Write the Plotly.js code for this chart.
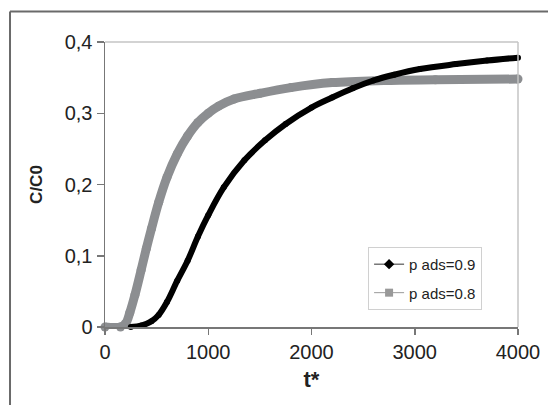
<!DOCTYPE html>
<html>
<head>
<meta charset="utf-8">
<script src="https://cdn.plot.ly/plotly-3.0.1.min.js"></script>
<style>html,body{margin:0;padding:0;background:#fff;}#chart{width:548px;height:405px;}</style>
</head>
<body>
<div id="chart"></div>
<script>
// p ads = 0.8 (gray)
var t08 = [0, 150, 200, 240, 290, 350, 400, 450, 520, 600, 700, 800, 900, 1000, 1100, 1250, 1500, 1800, 2200, 2700, 3200, 4000];
var c08 = [0, 0, 0.005, 0.02, 0.045, 0.08, 0.11, 0.138, 0.175, 0.21, 0.243, 0.268, 0.287, 0.3, 0.31, 0.32, 0.328, 0.336, 0.343, 0.346, 0.347, 0.348];
// p ads = 0.9 (black)
var t09 = [250, 350, 450, 520, 600, 700, 800, 900, 1000, 1150, 1350, 1550, 1750, 2000, 2200, 2400, 2600, 2800, 3050, 3400, 3700, 4000];
var c09 = [0, 0.002, 0.008, 0.017, 0.035, 0.065, 0.093, 0.127, 0.157, 0.196, 0.234, 0.262, 0.285, 0.308, 0.322, 0.335, 0.346, 0.354, 0.362, 0.369, 0.374, 0.378];
var seriesNames = ["p ads=0.9", "p ads=0.8"];
var yTickVals = [0, 0.1, 0.2, 0.3, 0.4];
var yTickText = ["0", "0,1", "0,2", "0,3", "0,4"];
var xTickVals = [0, 1000, 2000, 3000, 4000];
var xTickText = ["0", "1000", "2000", "3000", "4000"];

var traces = [
  {x: t08, y: c08, mode: "lines+markers", showlegend: false, cliponaxis: false,
   line: {color: "#8c8e91", width: 9, shape: "spline", smoothing: 1},
   marker: {symbol: "circle", size: 9, color: "#8c8e91"}},
  {x: t09, y: c09, mode: "lines+markers", showlegend: false, cliponaxis: false,
   line: {color: "#000000", width: 6, shape: "spline", smoothing: 1},
   marker: {symbol: "circle", size: 6, color: "#000000"}},
  {x: [null], y: [null], mode: "lines+markers", name: seriesNames[0], legendgroup: "a",
   line: {color: "#333", width: 1}, marker: {symbol: "diamond", size: 8, color: "#000"}},
  {x: [null], y: [null], mode: "lines+markers", name: seriesNames[1], legendgroup: "b",
   line: {color: "#999", width: 1}, marker: {symbol: "square", size: 8, color: "#999"}}
];

var layout = {
  width: 548, height: 405,
  margin: {l: 105, r: 30, t: 42, b: 78},
  paper_bgcolor: "#fff", plot_bgcolor: "#fff",
  font: {family: "Liberation Sans, Arial, sans-serif", color: "#222", size: 20},
  showlegend: true,
  legend: {x: 0.637, y: 0.281, xanchor: "left", yanchor: "top",
    bgcolor: "#fff", bordercolor: "#d0d0d0", borderwidth: 1,
    font: {size: 15, color: "#222"}, traceorder: "grouped", tracegroupgap: 6},
  xaxis: {range: [0, 4000], tickvals: xTickVals, ticktext: xTickText,
    showgrid: false, zeroline: false, showline: true, linecolor: "#777", linewidth: 1.5,
    ticks: "outside", ticklen: 6, tickcolor: "#777", tickwidth: 1.5,
    tickfont: {size: 20, color: "#222"},
    title: {text: "<b>t*</b>", font: {size: 22, color: "#222"}, standoff: 10}},
  yaxis: {range: [0, 0.4], tickvals: yTickVals, ticktext: yTickText,
    showgrid: false, zeroline: false, showline: true, linecolor: "#777", linewidth: 1.5,
    ticks: "outside", ticklen: 7, tickcolor: "#777", tickwidth: 1.5,
    tickfont: {size: 20, color: "#222"},
    title: {text: "<b>C/C0</b>", font: {size: 17, color: "#222"}, standoff: 17}},
  shapes: [
    {type: "line", xref: "paper", yref: "paper", x0: 0, x1: 1, y0: 1, y1: 1, line: {color: "#c4c4c4", width: 1.5}},
    {type: "line", xref: "paper", yref: "paper", x0: 1, x1: 1, y0: 0, y1: 1, line: {color: "#c4c4c4", width: 1.5}},
    {type: "line", xref: "paper", yref: "paper", x0: -0.230, x1: -0.230, y0: -0.35, y1: 1.107, line: {color: "#6a6a6a", width: 2}},
    {type: "line", xref: "paper", yref: "paper", x0: -0.230, x1: 1.2, y0: 1.107, y1: 1.107, line: {color: "#6a6a6a", width: 2}}
  ]
};

Plotly.newPlot("chart", traces, layout, {displayModeBar: false, staticPlot: true});
</script>
</body>
</html>
